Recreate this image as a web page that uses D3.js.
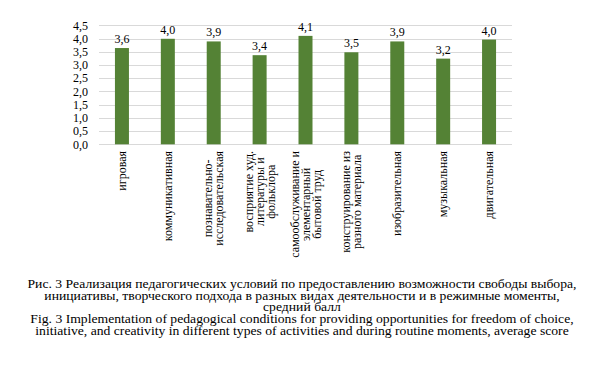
<!DOCTYPE html>
<html>
<head>
<meta charset="utf-8">
<script src="https://cdn.jsdelivr.net/npm/d3@7"></script>
<style>
  body { margin: 0; background: #fff; }
</style>
</head>
<body>
<div id="chart"></div>
<script>
// chart data
var categories = [
  ["игровая"],
  ["коммуникативная"],
  ["познавательно-", "исследовательская"],
  ["восприятие худ.", "литературы и", "фольклора"],
  ["самообслуживание и", "элементарный", "бытовой труд"],
  ["конструирование из", "разного материала"],
  ["изобразительная"],
  ["музыкальная"],
  ["двигательная"]
];
var values = [3.64, 3.99, 3.89, 3.37, 4.10, 3.48, 3.89, 3.24, 3.96];
var valueLabels = ["3,6", "4,0", "3,9", "3,4", "4,1", "3,5", "3,9", "3,2", "4,0"];
var yTicks = [0, 0.5, 1, 1.5, 2, 2.5, 3, 3.5, 4, 4.5];
var captionLines = [
  "Рис. 3 Реализация педагогических условий по предоставлению возможности свободы выбора,",
  "инициативы, творческого подхода в разных видах деятельности и в режимные моменты,",
  "средний балл",
  "Fig. 3 Implementation of pedagogical conditions for providing opportunities for freedom of choice,",
  "initiative, and creativity in different types of activities and during routine moments, average score"
];

var font = "Tinos, 'Liberation Serif', 'Times New Roman', 'Noto Serif', 'DejaVu Serif'";
var w = 595, h = 367;
var svg = d3.select("#chart").append("svg")
  .attr("width", w).attr("height", h)
  .attr("font-family", font);

var x = d3.scaleBand()
  .domain(d3.range(categories.length))
  .range([99, 512])
  .paddingInner(0.695)
  .paddingOuter(0.3475);

var y = d3.scaleLinear().domain([0, 4.5]).range([144.3, 25.3]);

// gridlines
svg.append("g").selectAll("line")
  .data(yTicks).enter().append("line")
  .attr("x1", 99).attr("x2", 512)
  .attr("y1", function(d) { return Math.round(y(d)) + 0.5; })
  .attr("y2", function(d) { return Math.round(y(d)) + 0.5; })
  .attr("stroke", "#d9d9d9").attr("stroke-width", 1);

// y labels
svg.append("g").selectAll("text")
  .data(yTicks).enter().append("text")
  .attr("x", 88)
  .attr("y", function(d) { return y(d); })
  .attr("dy", "0.35em")
  .attr("text-anchor", "end")
  .style("font-family", font)
  .style("font-size", "12px")
  .text(function(d) { return d.toFixed(1).replace(".", ","); });

// bars
svg.append("g").selectAll("rect")
  .data(values).enter().append("rect")
  .attr("x", function(d, i) { return x(i); })
  .attr("width", x.bandwidth())
  .attr("y", function(d) { return y(d); })
  .attr("height", function(d) { return y(0) - y(d); })
  .attr("fill", "#548235");

// value labels
svg.append("g").selectAll("text")
  .data(values).enter().append("text")
  .attr("x", function(d, i) { return x(i) + x.bandwidth() / 2; })
  .attr("y", function(d) { return y(d) - 5; })
  .attr("text-anchor", "middle")
  .style("font-family", font)
  .style("font-size", "12px")
  .text(function(d, i) { return valueLabels[i]; });

// category labels, rotated, block anchored at top and lines centred
var lineH = 11;
var cat = svg.append("g").selectAll("g")
  .data(categories).enter().append("g")
  .attr("transform", function(d, i) {
    return "translate(" + (x(i) + x.bandwidth() / 2) + ",151) rotate(-90)";
  });

cat.each(function(lines) {
  var g = d3.select(this);
  var ts = g.selectAll("text").data(lines).enter().append("text")
    .style("font-family", font)
    .style("font-size", "12px")
    .attr("text-anchor", "middle")
    .attr("dy", "0.35em")
    .attr("y", function(d, j) { return (j - (lines.length - 1) / 2) * lineH; })
    .text(function(d) { return d; });
  var maxLen = 0;
  ts.each(function() { maxLen = Math.max(maxLen, this.getComputedTextLength()); });
  ts.attr("x", -maxLen / 2);
});

// caption (picture is stretched sideways, so widen the lines to match)
var cap = svg.append("g").selectAll("text")
  .data(captionLines).enter().append("text")
  .attr("x", 302)
  .attr("y", function(d, i) { return 288 + i * 11.7; })
  .attr("text-anchor", "middle")
  .style("font-family", font)
  .style("font-size", "12.5px")
  .text(function(d) { return d; });
var sx = 549 / cap.node().getComputedTextLength();
cap.each(function() {
  d3.select(this)
    .attr("textLength", this.getComputedTextLength() * sx)
    .attr("lengthAdjust", "spacingAndGlyphs");
});
</script>
</body>
</html>
